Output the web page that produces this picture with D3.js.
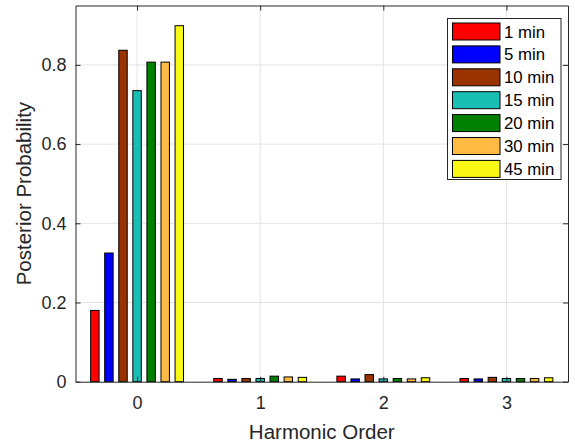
<!DOCTYPE html>
<html>
<head>
<meta charset="utf-8">
<script src="https://cdn.jsdelivr.net/npm/d3@7"></script>
<style>
  html, body { margin: 0; padding: 0; background: #fff; }
  svg { display: block; font-family: "Liberation Sans", Arial, Helvetica, sans-serif; }
</style>
</head>
<body>
<svg id="chart" width="575" height="446"></svg>
<script>
// Harmonic orders on the x axis
const harmonics = [0, 1, 2, 3];

// Sampling intervals (one bar series each)
const seriesNames = ["1 min", "5 min", "10 min", "15 min", "20 min", "30 min", "45 min"];
const seriesColors = ["#ff0000", "#0000ff", "#993300", "#1abfb4", "#008000", "#ffbb44", "#f8f814"];

// Posterior probability per harmonic order, one array per interval
const p1min  = [0.180, 0.008, 0.014, 0.008];
const p5min  = [0.325, 0.006, 0.007, 0.007];
const p10min = [0.837, 0.008, 0.018, 0.011];
const p15min = [0.735, 0.008, 0.007, 0.008];
const p20min = [0.807, 0.014, 0.008, 0.008];
const p30min = [0.807, 0.012, 0.007, 0.008];
const p45min = [0.899, 0.011, 0.010, 0.010];
const seriesValues = [p1min, p5min, p10min, p15min, p20min, p30min, p45min];

const yTicks = [0, 0.2, 0.4, 0.6, 0.8];
const yTickLabels = ["0", "0.2", "0.4", "0.6", "0.8"];

const svg = d3.select("#chart");
const plot = { left: 75.5, right: 568, top: 5.5, bottom: 381.7 };

const x = d3.scaleLinear().domain([-0.5, 3.5]).range([plot.left, plot.right]);
const y = d3.scaleLinear().domain([0, 0.95]).range([plot.bottom, plot.top]);

const axisColor = "#262626";
const gridColor = "#e3e3e3";
const tickFont = "18px";
const labelFont = "20.5px";
const legendFont = "16.8px";

// Grid
const grid = svg.append("g");
grid.selectAll("line.gx").data(harmonics).join("line")
  .attr("x1", d => x(d)).attr("x2", d => x(d))
  .attr("y1", plot.top).attr("y2", plot.bottom)
  .attr("stroke", gridColor).attr("stroke-width", 1);
grid.selectAll("line.gy").data(yTicks.slice(1)).join("line")
  .attr("x1", plot.left).attr("x2", plot.right)
  .attr("y1", d => y(d)).attr("y2", d => y(d))
  .attr("stroke", gridColor).attr("stroke-width", 1);

// Grouped bars
const nSeries = seriesNames.length;
const groupWidth = 0.8;
const slot = groupWidth / nSeries;
const barWidth = slot * 0.6;

const barsG = svg.append("g");
seriesValues.forEach((vals, i) => {
  const offset = (i - (nSeries - 1) / 2) * slot;
  barsG.append("g").selectAll("rect").data(harmonics).join("rect")
    .attr("x", (h) => x(h + offset - barWidth / 2))
    .attr("width", x(barWidth) - x(0))
    .attr("y", (h, j) => y(vals[j]))
    .attr("height", (h, j) => y(0) - y(vals[j]))
    .attr("fill", seriesColors[i])
    .attr("stroke", "#000")
    .attr("stroke-width", 1);
});

// Axes (box with ticks on all sides)
const tickLen = 5;
const xAxisB = d3.axisBottom(x).tickValues(harmonics).tickFormat(d3.format("d"))
  .tickSizeInner(-tickLen).tickSizeOuter(0).tickPadding(15);
const xAxisT = d3.axisTop(x).tickValues(harmonics).tickFormat("")
  .tickSizeInner(-tickLen).tickSizeOuter(0);
const yAxisL = d3.axisLeft(y).tickValues(yTicks).tickFormat((d, i) => yTickLabels[i])
  .tickSizeInner(-tickLen).tickSizeOuter(0).tickPadding(9);
const yAxisR = d3.axisRight(y).tickValues(yTicks).tickFormat("")
  .tickSizeInner(-tickLen).tickSizeOuter(0);

function styleAxis(g) {
  g.attr("font-size", null).attr("font-family", null);
  g.select(".domain").attr("stroke", axisColor).attr("stroke-width", 1);
  g.selectAll(".tick line").attr("stroke", axisColor).attr("stroke-width", 1);
  g.selectAll(".tick text").attr("fill", axisColor).style("font-size", tickFont);
}

svg.append("g").attr("transform", `translate(0,${plot.bottom})`).call(xAxisB).call(styleAxis);
svg.append("g").attr("transform", `translate(0,${plot.top})`).call(xAxisT).call(styleAxis);
svg.append("g").attr("transform", `translate(${plot.left},0)`).call(yAxisL).call(styleAxis);
svg.append("g").attr("transform", `translate(${plot.right},0)`).call(yAxisR).call(styleAxis);

// Axis titles
svg.append("text")
  .attr("x", (plot.left + plot.right) / 2).attr("y", 438.5)
  .attr("text-anchor", "middle").attr("fill", axisColor)
  .style("font-size", labelFont).text("Harmonic Order");
svg.append("text")
  .attr("transform", `translate(31,${(plot.top + plot.bottom) / 2}) rotate(-90)`)
  .attr("text-anchor", "middle").attr("fill", axisColor)
  .style("font-size", labelFont).text("Posterior Probability");

// Legend
const legend = svg.append("g");
const lg = { x: 447.5, y: 18.5, w: 113.5, h: 161 };
legend.append("rect")
  .attr("x", lg.x).attr("y", lg.y).attr("width", lg.w).attr("height", lg.h)
  .attr("fill", "#fff").attr("stroke", axisColor).attr("stroke-width", 1);
const rowStep = 22.9;
seriesNames.forEach((name, i) => {
  const cy = 31.5 + i * rowStep;
  legend.append("rect")
    .attr("x", 452.5).attr("y", cy - 8.5).attr("width", 47.5).attr("height", 17)
    .attr("fill", seriesColors[i]).attr("stroke", "#000").attr("stroke-width", 1);
  legend.append("text")
    .attr("x", 504).attr("y", cy + 6)
    .attr("fill", "#000").style("font-size", legendFont).text(name);
});
</script>
</body>
</html>
